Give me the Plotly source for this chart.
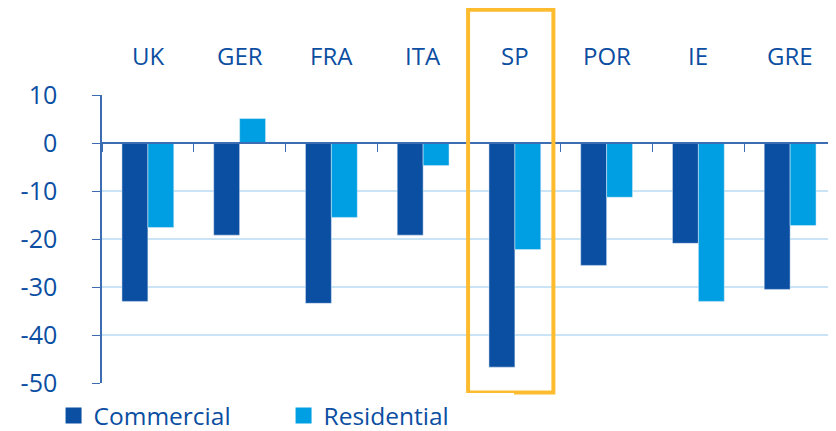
import plotly.graph_objects as go

countries = ["UK", "GER", "FRA", "ITA", "SP", "POR", "IE", "GRE"]
commercial = [-33.0, -19.2, -33.4, -19.2, -46.7, -25.5, -20.9, -30.5]
residential = [-17.6, 5.1, -15.5, -4.7, -22.2, -11.3, -33.0, -17.2]
highlight = "SP"
y_ticks = [10, 0, -10, -20, -30, -40, -50]
y_labels = ["10", "0", "-10", "-20", "-30", "-40", "-50"]

dark = "#0A4FA2"
light = "#009FE3"
text_col = "#0B4EA2"
font = "'Open Sans', sans-serif"

fig = go.Figure()
fig.add_trace(go.Bar(x=countries, y=commercial, name="Commercial", marker_color=dark,
                     showlegend=False))
fig.add_trace(go.Bar(x=countries, y=residential, name="Residential", marker_color=light,
                     showlegend=False))
# legend entries with larger square keys
for name, col in [("Commercial", dark), ("Residential", light)]:
    fig.add_trace(go.Scatter(x=[None], y=[None], mode="markers", name=name,
                             marker=dict(symbol="square", size=17, color=col)))

# country labels above the plot
for c in countries:
    fig.add_annotation(x=c, y=1.136, xref="x", yref="paper", text=c, showarrow=False,
                       yanchor="middle", font=dict(size=24, color=text_col, family=font))

# highlight box around Spain
i = countries.index(highlight)
fig.add_shape(type="rect", xref="x", yref="paper", x0=i - 0.51, x1=i + 0.42,
              y0=-0.033, y1=1.296, line=dict(color="#FDBB30", width=4))

# page body has an 8px margin, so the figure is 8px smaller and shifted
fig.update_layout(
    width=828, height=423,
    margin=dict(l=94, r=0, t=87, b=48, autoexpand=False),
    plot_bgcolor="white", paper_bgcolor="white",
    barmode="group", bargap=0.435, bargroupgap=0,
    font=dict(family=font, color=text_col),
    legend=dict(orientation="h", x=-0.066, y=-0.113, xanchor="left", yanchor="middle",
                font=dict(size=24.5, color=text_col, family=font),
                entrywidth=185, entrywidthmode="pixels"),
    showlegend=True,
)
fig.update_xaxes(anchor="free", position=1 - 10 / 60, showline=True, linecolor="#3C6CB2",
                 linewidth=1.5, ticks="outside", tickson="boundaries", ticklen=8,
                 tickcolor="#3C6CB2", showticklabels=False, showgrid=False)
fig.update_yaxes(range=[-50, 10], tickvals=y_ticks, ticktext=y_labels, showline=True,
                 linecolor="#3C6CB2", linewidth=1.5, ticks="outside", ticklen=8,
                 tickcolor="#3C6CB2", gridcolor="#C9E5F5", gridwidth=1.5, zeroline=False,
                 ticklabelstandoff=30, tickfont=dict(size=25, color=text_col, family=font))

fig.write_html("out.html")
